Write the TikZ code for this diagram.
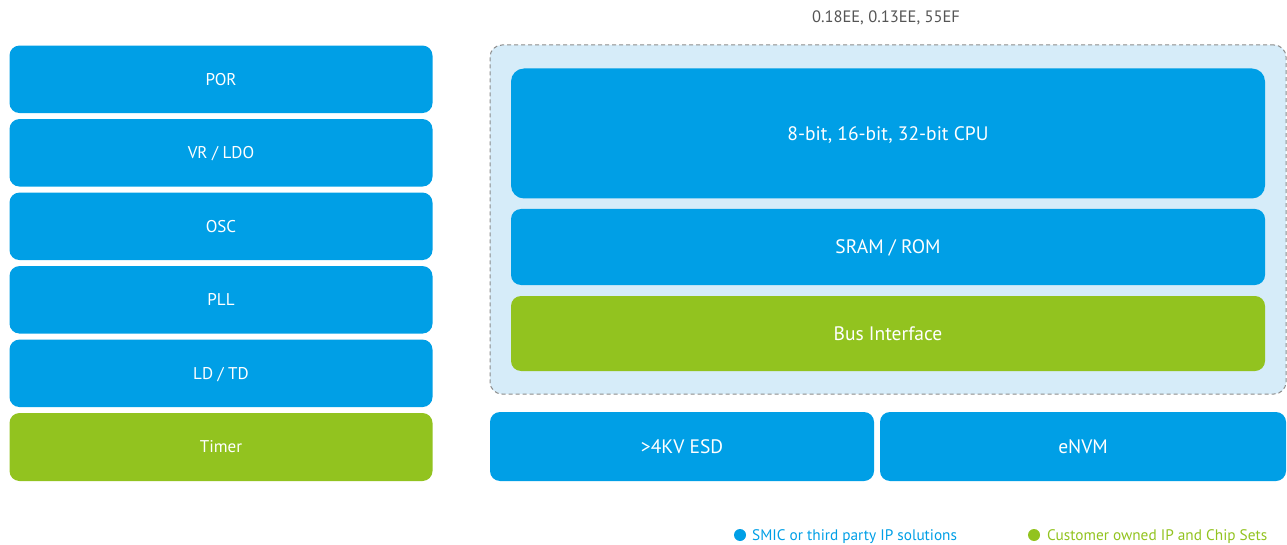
\documentclass[tikz,border=0pt]{standalone}
\usepackage{fontspec}
\setmainfont{PT Sans}
\definecolor{ipblue}{HTML}{009FE6}
\definecolor{ipgreen}{HTML}{92C31F}
\definecolor{panelbg}{HTML}{D6ECF9}
\definecolor{dashgray}{HTML}{8C8C8C}
\definecolor{labelgray}{HTML}{555555}
\tikzset{
  block/.style={rectangle, rounded corners=10pt, inner sep=0pt, text=white,
    font=\fontsize{17}{20}\selectfont, text height=11.9pt, text depth=0pt},
  blueblock/.style={block, fill=ipblue},
  greenblock/.style={block, fill=ipgreen},
  bigblock/.style={font=\fontsize{19.5}{23}\selectfont, text height=13.6pt},
  legenddot/.style={circle, inner sep=0pt, minimum size=12pt},
  legendtext/.style={anchor=west, inner sep=0pt, font=\fontsize{15.3}{18}\selectfont,
    text height=10.7pt, text depth=0pt}
}
\begin{document}
\begin{tikzpicture}[x=1pt, y=-1pt]
  \useasboundingbox (0,0) rectangle (1287,545);
  % left column of analog blocks
  \node[blueblock, minimum width=423pt, minimum height=67.5pt] (por) at (221,79.3) {POR};
  \node[blueblock, minimum width=423pt, minimum height=67.5pt] (vr) at (221,152.8) {VR / LDO};
  \node[blueblock, minimum width=423pt, minimum height=67.5pt] (osc) at (221,226.3) {OSC};
  \node[blueblock, minimum width=423pt, minimum height=67.5pt] (pll) at (221,299.8) {PLL};
  \node[blueblock, minimum width=423pt, minimum height=67.5pt] (ldtd) at (221,373.3) {LD / TD};
  \node[greenblock, minimum width=423pt, minimum height=68pt] (timer) at (221,447) {Timer};
  % process label
  \node[text=labelgray, inner sep=0pt, font=\fontsize{16.5}{19}\selectfont,
        text height=11.5pt, text depth=0pt] (proc) at (886,16.5) {0.18EE, 0.13EE, 55EF};
  % dashed MCU panel
  \node[rectangle, rounded corners=12pt, draw=dashgray, line width=1pt, dash pattern=on 4pt off 3pt,
        fill=panelbg, minimum width=796pt, minimum height=349pt, inner sep=0pt] (panel) at (888,219.5) {};
  \node[blueblock, bigblock, rounded corners=13pt, minimum width=754pt, minimum height=130pt] (cpu) at (888,133.5) {8-bit, 16-bit, 32-bit CPU};
  \node[blueblock, bigblock, minimum width=754pt, minimum height=76pt] (sram) at (888,247) {SRAM / ROM};
  \node[greenblock, bigblock, minimum width=754pt, minimum height=75pt] (bus) at (888,333.5) {Bus Interface};
  % blocks below the panel
  \node[blueblock, bigblock, minimum width=384pt, minimum height=69pt] (esd) at (682,446.5) {>4KV ESD};
  \node[blueblock, bigblock, minimum width=406pt, minimum height=69pt] (envm) at (1083,446.5) {eNVM};
  % legend
  \node[legenddot, fill=ipblue] (dotblue) at (740,535) {};
  \node[legendtext, text=ipblue] (legblue) at (752,535) {SMIC or third party IP solutions};
  \node[legenddot, fill=ipgreen] (dotgreen) at (1034,535) {};
  \node[legendtext, text=ipgreen] (leggreen) at (1047,535) {Customer owned IP and Chip Sets};
\end{tikzpicture}
\end{document}
